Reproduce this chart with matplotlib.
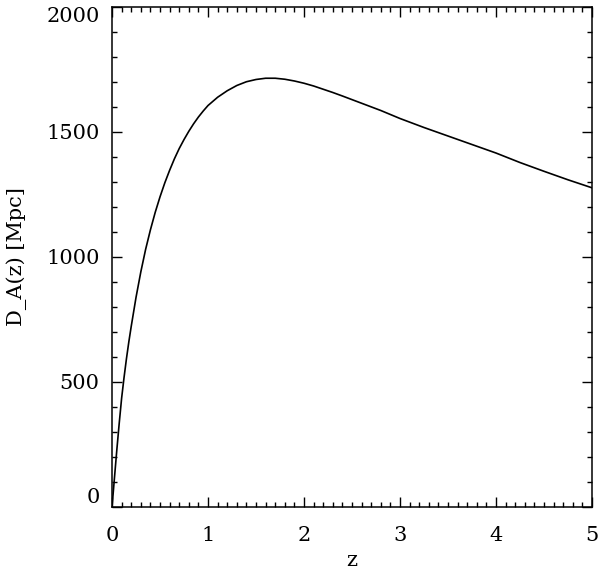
import matplotlib
matplotlib.use("Agg")
import matplotlib.pyplot as plt
from matplotlib.ticker import MultipleLocator

# angular diameter distance
z = [0.0, 0.025, 0.05, 0.075, 0.1, 0.125, 0.15, 0.175, 0.2, 0.25, 0.3, 0.35,
     0.4, 0.45, 0.5, 0.55, 0.6, 0.65, 0.7, 0.75, 0.8, 0.85, 0.9, 0.95, 1.0,
     1.1, 1.2, 1.3, 1.4, 1.5, 1.6, 1.7, 1.8, 1.9, 2.0, 2.1, 2.2, 2.3, 2.4,
     2.6, 2.8, 3.0, 3.25, 3.5, 3.75, 4.0, 4.25, 4.5, 4.75, 5.0]
d_a = [0, 115, 228, 335, 435, 517, 592, 660, 722, 838, 940, 1030,
       1108, 1178, 1240, 1296, 1346, 1392, 1433, 1469, 1502, 1532, 1559, 1583, 1605,
       1638, 1664, 1685, 1700, 1709, 1714, 1714, 1710, 1703, 1694, 1683, 1670, 1657, 1643,
       1614, 1585, 1553, 1517, 1483, 1449, 1415, 1377, 1342, 1308, 1276]

x_ticks = [0, 1, 2, 3, 4, 5]
y_ticks = [0, 500, 1000, 1500, 2000]

plt.rcParams["font.family"] = ["DejaVu Serif"]

fig = plt.figure(figsize=(6, 5.72), dpi=100)
ax = fig.add_axes([0.1867, 0.1136, 0.8, 0.8747])

ax.plot(z, d_a, color="black", linewidth=1.2)

ax.set_xlim(0, 5)
ax.set_ylim(0, 2000)
ax.set_xticks(x_ticks)
ax.set_yticks(y_ticks)
ax.xaxis.set_minor_locator(MultipleLocator(0.1))
ax.yaxis.set_minor_locator(MultipleLocator(100))

ax.tick_params(which="both", direction="in", top=True, right=True,
               labelsize=15, width=1.0)
ax.tick_params(which="major", length=7.5)
ax.tick_params(which="minor", length=3.8)
ax.tick_params(axis="x", pad=14)
ax.tick_params(axis="y", pad=9)

for sp in ax.spines.values():
    sp.set_linewidth(1.1)

ylabels = ax.get_yticklabels()
ylabels[0].set_va("bottom")
ylabels[-1].set_va("top")

ax.set_xlabel("z", fontsize=15, labelpad=4)
ax.set_ylabel("D_A(z) [Mpc]", fontsize=15, labelpad=14)

fig.savefig("out.png", dpi=100)
